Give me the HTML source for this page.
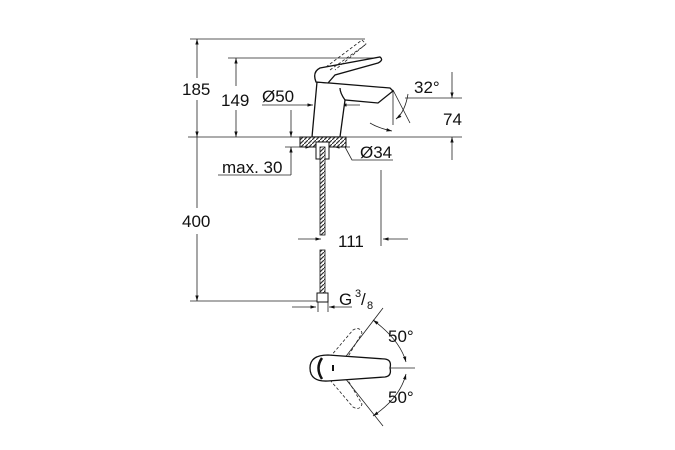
<!DOCTYPE html>
<html><head><style>
html,body{margin:0;padding:0;background:#fff;}
svg{display:block}
text{font-family:"Liberation Sans",sans-serif;fill:#111;}
</style></head><body>
<svg width="675" height="450" viewBox="0 0 675 450" xmlns="http://www.w3.org/2000/svg">
<defs>
<marker id="a" viewBox="0 0 10 10" refX="10" refY="5" markerWidth="7" markerHeight="7" orient="auto-start-reverse"><path d="M0,2 L10,5 L0,8 z" fill="#111"/></marker>
<pattern id="h" width="4" height="4" patternUnits="userSpaceOnUse"><rect width="4" height="4" fill="#fff"/><path d="M0 4 L4 0" stroke="#333" stroke-width="1.2"/></pattern>
</defs>
<g stroke="#222" stroke-width="0.8" fill="none">
<line x1="190" y1="39" x2="365" y2="39"/>
<line x1="228" y1="58" x2="380" y2="58"/>
<line x1="188" y1="137" x2="462" y2="137"/>
<line x1="190" y1="301" x2="318" y2="301"/>
<line x1="197" y1="39" x2="197" y2="78" marker-start="url(#a)"/>
<line x1="197" y1="100" x2="197" y2="137" marker-end="url(#a)"/>
<line x1="236" y1="58" x2="236" y2="86" marker-start="url(#a)"/>
<line x1="236" y1="110" x2="236" y2="137" marker-end="url(#a)"/>
<line x1="197" y1="137" x2="197" y2="208"/>
<line x1="197" y1="234" x2="197" y2="301" marker-end="url(#a)"/>
<line x1="262" y1="105" x2="313" y2="105" marker-end="url(#a)"/>
<line x1="360" y1="105" x2="341" y2="105" marker-end="url(#a)"/>
<line x1="291" y1="110" x2="291" y2="137" marker-end="url(#a)"/>
<line x1="291" y1="175" x2="291" y2="147" marker-end="url(#a)"/>
<line x1="218" y1="175" x2="291" y2="175"/>
<line x1="285" y1="147" x2="311" y2="147" marker-end="url(#a)"/>
<line x1="350" y1="147" x2="334" y2="147" marker-end="url(#a)"/>
<polyline points="345,147 352,160 393,160"/>
<line x1="452" y1="72" x2="452" y2="98" marker-end="url(#a)"/>
<line x1="405" y1="98" x2="462" y2="98"/>
<line x1="452" y1="160" x2="452" y2="137" marker-end="url(#a)"/>
<line x1="393" y1="90" x2="410" y2="123"/>
<line x1="393" y1="90" x2="393" y2="125"/>
<path d="M408 94 Q405 112 396 119" marker-end="url(#a)"/>
<path d="M370 123 Q378 128 392 131" marker-end="url(#a)"/>
<line x1="381" y1="170" x2="381" y2="246"/>
<line x1="298" y1="239" x2="321" y2="239" marker-end="url(#a)"/>
<line x1="408" y1="239" x2="383" y2="239" marker-end="url(#a)"/>
<line x1="292" y1="307" x2="316" y2="307" marker-end="url(#a)"/>
<line x1="352" y1="307" x2="329" y2="307" marker-end="url(#a)"/>
<line x1="318" y1="301" x2="318" y2="312"/>
<line x1="328" y1="301" x2="328" y2="312"/>
</g>
<g stroke="#111" stroke-width="1.3" fill="#fff">
<path d="M312 137 L317 82 L390 88 L393 91 L378 103 L345 100 L340 137 Z"/>
<path d="M316 82 Q312 72 320 68 L380 57 Q384 60 378 63 L335 75 L328 83 Z"/>
<path d="M345 100 Q340 93 340 88" fill="none"/>
</g>
<g stroke="#222" stroke-width="0.8" fill="none" stroke-dasharray="3,2">
<path d="M326 67 L362 40 L366 44 L335 70"/>
<path d="M330 70 L365 45"/>
</g>
<g stroke="#111" stroke-width="1" fill="#fff">
<rect x="300" y="137" width="46" height="10" fill="url(#h)"/>
<rect x="316" y="142" width="13" height="17"/>
</g>
<rect x="320" y="147" width="5" height="88" fill="url(#h)" stroke="#111" stroke-width="0.8"/>
<rect x="320" y="250" width="5" height="44" fill="url(#h)" stroke="#111" stroke-width="0.8"/>
<rect x="317" y="293" width="11" height="9" fill="#fff" stroke="#111" stroke-width="1"/>
<g stroke="#222" stroke-width="0.8" fill="none">
<line x1="337" y1="368" x2="415" y2="368"/>
<line x1="337" y1="368" x2="383" y2="308"/>
<line x1="337" y1="368" x2="383" y2="426"/>
<path d="M373 320 Q400 340 406 362" marker-start="url(#a)" marker-end="url(#a)"/>
<path d="M406 374 Q400 398 373 416" marker-start="url(#a)" marker-end="url(#a)"/>
<g stroke-dasharray="3,2">
<path d="M330 357 L353 330 Q360 326 362 333 L343 365"/>
<path d="M330 380 L353 407 Q360 411 362 404 L343 372"/>
</g>
</g>
<g stroke="#111" stroke-width="1.3" fill="#fff">
<path d="M328 355 Q310 355 310 368 Q310 382 328 381 L385 377 Q392 376 390 368 Q392 360 385 359 Z"/>
<path d="M322 358 Q315 368 322 379" fill="none" stroke-width="2.5"/>
<line x1="333" y1="365" x2="333" y2="371" stroke-width="2"/>
</g>
<g font-size="17">
<text x="182" y="95">185</text>
<text x="221" y="106">149</text>
<text x="262" y="102">Ø50</text>
<text x="414" y="93">32°</text>
<text x="443" y="125">74</text>
<text x="360" y="158">Ø34</text>
<text x="222" y="173">max. 30</text>
<text x="182" y="227">400</text>
<text x="338" y="247">111</text>
<text x="339" y="305">G</text>
<text x="355" y="297" font-size="11">3</text>
<text x="361" y="305">/</text>
<text x="367" y="309" font-size="11">8</text>
<text x="388" y="342">50°</text>
<text x="388" y="403">50°</text>
</g>
</svg>
</body></html>
